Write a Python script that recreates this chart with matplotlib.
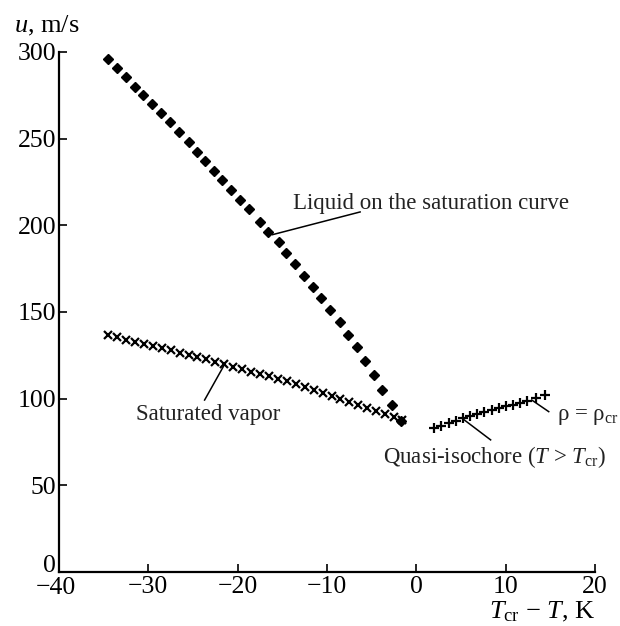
import matplotlib
matplotlib.use("Agg")
import matplotlib.pyplot as plt
from matplotlib.transforms import ScaledTranslation

plt.rcParams['font.family'] = ['Liberation Serif', 'DejaVu Serif']
plt.rcParams['mathtext.fontset'] = 'custom'
plt.rcParams['mathtext.rm'] = 'Liberation Serif'
plt.rcParams['mathtext.it'] = 'Liberation Serif:italic'

# Liquid on the saturation curve
liquid_dT = [-34.5, -33.5, -32.5, -31.5, -30.6, -29.6, -28.6, -27.6, -26.6, -25.4,
             -24.5, -23.6, -22.6, -21.7, -20.7, -19.7, -18.7, -17.5, -16.6, -15.4,
             -14.6, -13.6, -12.6, -11.6, -10.7, -9.7, -8.6, -7.7, -6.6, -5.7,
             -4.7, -3.8, -2.7, -1.7]
liquid_u = [295.8, 291.0, 285.5, 280.0, 275.2, 269.9, 264.7, 259.5, 253.7, 247.9,
            242.5, 237.2, 231.6, 226.2, 220.4, 214.7, 209.3, 202.1, 196.4, 190.2,
            184.2, 177.6, 171.0, 164.6, 157.9, 151.2, 144.1, 136.8, 129.8, 121.8,
            113.7, 104.8, 96.2, 87.1]

# Saturated vapor
vapor_dT = [-34.5, -33.5, -32.5, -31.5, -30.5, -29.5, -28.5, -27.5, -26.5, -25.5,
            -24.5, -23.5, -22.5, -21.5, -20.5, -19.5, -18.5, -17.5, -16.5, -15.5,
            -14.5, -13.5, -12.5, -11.5, -10.5, -9.5, -8.5, -7.5, -6.5, -5.5,
            -4.5, -3.5, -2.5, -1.6]
vapor_u = [136.5, 135.3, 134.0, 132.8, 131.5, 130.3, 129.0, 127.8, 126.5, 125.3,
           124.0, 122.6, 121.2, 119.8, 118.4, 117.0, 115.6, 114.2, 112.8, 111.4,
           110.0, 108.3, 106.6, 104.9, 103.2, 101.5, 99.8, 98.1, 96.4, 94.7,
           93.0, 91.3, 89.6, 87.6]

# Quasi-isochore above the critical temperature
iso_dT = [2.0, 2.8, 3.6, 4.4, 5.2, 6.0, 6.8, 7.6, 8.4, 9.2, 10.0, 10.8, 11.6, 12.4, 13.4, 14.4]
iso_u = [82.9, 84.3, 85.8, 87.2, 88.6, 89.8, 91.0, 92.2, 93.3, 94.4, 95.5, 96.5, 97.4, 98.5, 100.3, 102.2]

x_ticks = [-40, -30, -20, -10, 0, 10, 20]
y_ticks = [0, 50, 100, 150, 200, 250, 300]

fig = plt.figure(figsize=(6.2, 6.26), dpi=100)
ax = fig.add_axes([0.095, 0.0863, 0.865, 0.8307])

ax.plot(liquid_dT, liquid_u, linestyle='none', marker='D', markersize=5.4,
        color='black')
ax.plot(vapor_dT, vapor_u, linestyle='none', marker='x', markersize=6,
        markeredgewidth=1.6, color='black')
ax.plot(iso_dT, iso_u, linestyle='none', marker='+', markersize=7.5,
        markeredgewidth=1.6, color='black')

ax.set_xlim(-40, 20)
ax.set_ylim(0, 300)
ax.set_xticks(x_ticks)
ax.set_yticks(y_ticks)
ax.tick_params(direction='in', length=6, width=1.2, labelsize=18.5)
ax.tick_params(axis='x', pad=3)
ax.tick_params(axis='y', pad=2)

for side in ('top', 'right'):
    ax.spines[side].set_visible(False)
for side in ('left', 'bottom'):
    ax.spines[side].set_linewidth(1.6)

# lift the "0" on the y axis so it sits above the x tick labels
fig.canvas.draw()
zero_lbl = ax.get_yticklabels()[0]
zero_lbl.set_transform(zero_lbl.get_transform()
                       + ScaledTranslation(0, 8 / 100, fig.dpi_scale_trans))
first_x = ax.get_xticklabels()[0]
first_x.set_transform(first_x.get_transform()
                      + ScaledTranslation(-3 / 100, -1 / 100, fig.dpi_scale_trans))

# leader lines with their captions
lbl = dict(fontsize=16.5, color='#222222', va='baseline', ha='left')
ax.plot([-16.1, -6.3], [194.6, 207.7], color='black', lw=1.1)
ax.text(-13.8, 209.3, 'Liquid on the saturation curve', **lbl)

ax.plot([-21.6, -23.7], [118.5, 99.2], color='black', lw=1.1)
ax.text(-31.4, 87.7, 'Saturated vapor', **lbl)

ax.plot([5.1, 8.3], [88.7, 76.2], color='black', lw=1.1)
ax.text(-3.7, 62.7, r'Quasi-isochore ($T$ > $T_{\rm cr}$)', **lbl)

ax.plot([12.9, 14.8], [99.2, 92.5], color='black', lw=1.1)
ax.text(15.7, 87.7, r'ρ = ρ$_{\rm cr}$', clip_on=False, **lbl)

fig.text(14 / 620, 1 - 32 / 626, r'$u$, m/s', fontsize=19, va='baseline', ha='left')
fig.text(595 / 620, 1 - 618 / 626, r'$T_{\rm cr}$ $-$ $T$, K', fontsize=19,
         va='baseline', ha='right')

fig.savefig('out.png', dpi=100, facecolor='white')
